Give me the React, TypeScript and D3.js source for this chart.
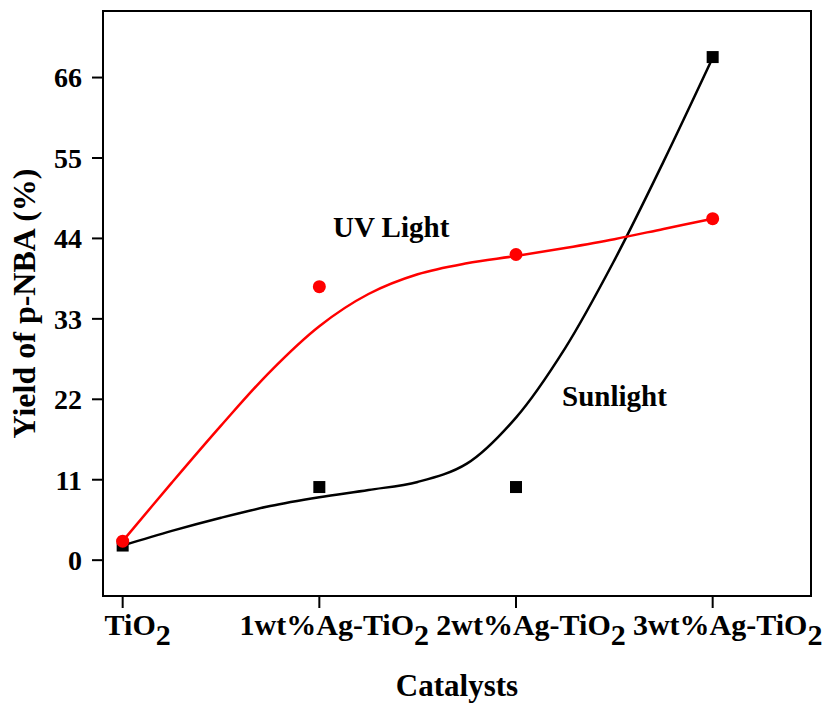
import React from "react";
import * as d3 from "d3";

const categories = ["TiO", "1wt%Ag-TiO", "2wt%Ag-TiO", "3wt%Ag-TiO"];
const sunlightValues = [2.0, 10.0, 10.0, 68.8];
const uvValues = [2.6, 37.4, 41.8, 46.7];
const yTicks = [0, 11, 22, 33, 44, 55, 66];

// fitted curves at category positions
const fitX = [0, 0.25, 0.5, 0.75, 1, 1.25, 1.5, 1.75, 2, 2.25, 2.5, 2.75, 3];
const uvFit = [2.6, 10.6, 18.4, 25.8, 32.0, 36.4, 39.1, 40.6, 41.6, 42.7, 43.9, 45.3, 46.7];
const sunFit = [2.0, 4.0, 5.8, 7.4, 8.6, 9.6, 10.7, 13.2, 19.5, 29.0, 41.0, 54.5, 68.7];

const W = 830;
const H = 706;
const left = 103;
const right = 811;
const top = 11;
const bottom = 596;
const font = "'Times New Roman', 'Liberation Serif', serif";

export default function App() {
  const x = d3.scaleLinear().domain([-0.1, 3.5]).range([left, right]);
  const y = d3.scaleLinear().domain([-4.9, 75.1]).range([bottom, top]);

  const line = d3
    .line<[number, number]>()
    .x((d) => x(d[0]))
    .y((d) => y(d[1]))
    .curve(d3.curveCatmullRom.alpha(0.5));

  const uvPath = line(fitX.map((v, i) => [v, uvFit[i]] as [number, number])) || "";
  const sunPath = line(fitX.map((v, i) => [v, sunFit[i]] as [number, number])) || "";

  return (
    <svg
      width={W}
      height={H}
      style={{ position: "absolute", left: 0, top: 0, background: "#fff" }}
      fontFamily={font}
      fontWeight="bold"
    >
      <rect x={0} y={0} width={W} height={H} fill="#fff" />
      {/* frame */}
      <rect
        x={left}
        y={top}
        width={right - left}
        height={bottom - top}
        fill="none"
        stroke="#000"
        strokeWidth={2}
      />
      {/* y ticks */}
      {yTicks.map((t) => (
        <g key={t}>
          <line x1={left - 11} x2={left} y1={y(t)} y2={y(t)} stroke="#000" strokeWidth={2} />
          <text x={82} y={y(t)} dy="0.35em" textAnchor="end" fontSize={28}>
            {t}
          </text>
        </g>
      ))}
      {/* x ticks */}
      {categories.map((c, i) => (
        <g key={c}>
          <line x1={x(i)} x2={x(i)} y1={bottom} y2={bottom + 12} stroke="#000" strokeWidth={2} />
          <text x={x(i) + 15} y={635} textAnchor="middle" fontSize={30}>
            {c}
            <tspan dy={10}>2</tspan>
          </text>
        </g>
      ))}
      {/* curves */}
      <path d={sunPath} fill="none" stroke="#000" strokeWidth={2.5} />
      <path d={uvPath} fill="none" stroke="#ff0000" strokeWidth={2.5} />
      {/* markers */}
      {sunlightValues.map((v, i) => (
        <rect key={"s" + i} x={x(i) - 6} y={y(v) - 6} width={12} height={12} fill="#000" />
      ))}
      {uvValues.map((v, i) => (
        <circle key={"u" + i} cx={x(i)} cy={y(v)} r={6.5} fill="#ff0000" />
      ))}
      {/* annotations */}
      <text x={333} y={237} fontSize={29}>
        UV Light
      </text>
      <text x={562} y={406} fontSize={29}>
        Sunlight
      </text>
      {/* axis titles */}
      <text x={(left + right) / 2} y={696} textAnchor="middle" fontSize={31}>
        Catalysts
      </text>
      <text
        transform={`translate(35, ${(top + bottom) / 2}) rotate(-90)`}
        textAnchor="middle"
        fontSize={32}
      >
        Yield of p-NBA (%)
      </text>
    </svg>
  );
}
